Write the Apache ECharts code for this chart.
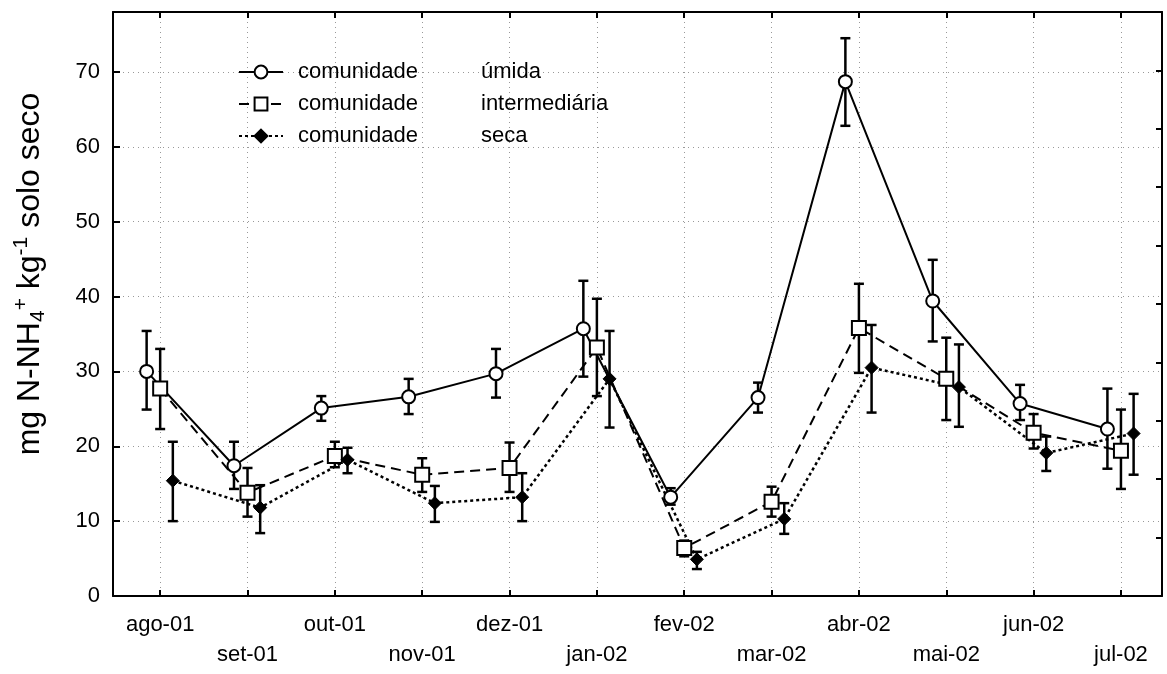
<!DOCTYPE html>
<html><head><meta charset="utf-8">
<script src="https://cdn.jsdelivr.net/npm/echarts@6/dist/echarts.min.js"></script>
<style>html,body{margin:0;padding:0;background:#fff}#c{width:1167px;height:674px}</style>
</head><body><div id="c"></div>
<script>
const months = ['ago-01','set-01','out-01','nov-01','dez-01','jan-02','fev-02','mar-02','abr-02','mai-02','jun-02','jul-02'];
const seriesNames = ['comunidade úmida','comunidade intermediária','comunidade seca'];
const yTicks = [0,10,20,30,40,50,60,70];
const umida     = [30.0,17.4,25.1,26.6,29.7,35.7,13.2,26.5,68.7,39.4,25.7,22.3];
const umidaLow  = [24.9,14.3,23.4,24.3,26.5,29.3,12.2,24.5,62.8,34.0,23.5,17.0];
const umidaHigh = [35.4,20.6,26.7,29.0,33.0,42.1,14.4,28.5,74.5,44.9,28.2,27.7];
const inter     = [27.7,13.8,18.7,16.2,17.1,33.2,6.4,12.6,35.8,29.0,21.8,19.4];
const interLow  = [22.3,10.6,17.2,13.9,13.9,26.7,5.3,10.6,29.8,23.5,19.7,14.3];
const interHigh = [33.0,17.1,20.6,18.4,20.5,39.7,7.4,14.6,41.7,34.5,24.3,24.9];
const seca      = [15.4,11.8,18.2,12.4,13.2,29.0,4.9,10.3,30.5,27.9,19.1,21.7];
const secaLow   = [10.0,8.4,16.4,9.9,10.0,22.5,3.6,8.3,24.5,22.6,16.7,16.2];
const secaHigh  = [20.6,14.8,19.8,14.7,16.4,35.4,5.9,12.4,36.2,33.6,21.3,27.0];

const FONT = '"Liberation Sans", Arial, sans-serif';
const OFF = [-0.155, 0, 0.145];
const xTicks = months.map((m, i) => i);

function pts(vals, off) { return vals.map((v, i) => [i + off, v]); }
function errSeries(low, high, off) {
  return {
    type: 'custom', silent: true, z: 2,
    data: low.map((l, i) => [i + off, l, high[i]]),
    encode: { x: 0, y: [1, 2] },
    renderItem: (params, api) => {
      const x = api.value(0);
      const lo = api.coord([x, api.value(1)]);
      const hi = api.coord([x, api.value(2)]);
      const w = 5, st = { stroke: '#000', lineWidth: 2.5 };
      return { type: 'group', children: [
        { type: 'line', shape: { x1: lo[0], y1: lo[1], x2: hi[0], y2: hi[1] }, style: st },
        { type: 'line', shape: { x1: lo[0] - w, y1: lo[1], x2: lo[0] + w, y2: lo[1] }, style: st },
        { type: 'line', shape: { x1: hi[0] - w, y1: hi[1], x2: hi[0] + w, y2: hi[1] }, style: st }
      ]};
    }
  };
}

const axisLine = { onZero: false, lineStyle: { color: '#000', width: 2 } };
const grid = { color: '#999', type: [1, 4], width: 1 };

const chart = echarts.init(document.getElementById('c'));
chart.setOption({
  animation: false,
  backgroundColor: '#fff',
  grid: { left: 113, right: 5, top: 12, bottom: 78 },
  xAxis: [{
    type: 'value', min: -0.54, max: 11.47, position: 'bottom',
    axisLine,
    axisTick: { inside: true, length: 6, customValues: xTicks, lineStyle: { color: '#000', width: 2 } },
    axisLabel: {
      customValues: xTicks,
      formatter: v => { const i = Math.round(v); return (i % 2 ? '\n' : '') + months[i]; },
      fontSize: 22, fontFamily: FONT, color: '#000', lineHeight: 30, margin: 14
    },
    splitLine: { show: true, lineStyle: grid }
  }, {
    type: 'value', min: -0.54, max: 11.47, position: 'top',
    axisLine,
    axisTick: { inside: true, length: 6, customValues: xTicks, lineStyle: { color: '#000', width: 2 } },
    axisLabel: { show: false }, splitLine: { show: false }
  }],
  yAxis: [{
    type: 'value', min: 0, max: 78, position: 'left',
    axisLine,
    axisTick: { show: true, inside: true, length: 7, customValues: yTicks, lineStyle: { color: '#000', width: 2 } },
    axisLabel: { customValues: yTicks, fontSize: 22, fontFamily: FONT, color: '#000', margin: 13 },
    splitLine: { show: true, lineStyle: grid }
  }, {
    type: 'value', min: 0, max: 78, interval: 7.8, position: 'right',
    axisLine,
    axisTick: { show: true, inside: true, length: 6, lineStyle: { color: '#000', width: 2 } },
    axisLabel: { show: false }, splitLine: { show: false }
  }],
  legend: {
    left: 238, top: 61, padding: 0, orient: 'vertical', itemWidth: 44, itemHeight: 16, itemGap: 10,
    selectedMode: false, data: seriesNames,
    formatter: n => { const p = n.split(' '); return '{a|' + p[0] + '}{b|' + p[1] + '}'; },
    textStyle: {
      fontSize: 22, fontFamily: FONT, color: '#000', lineHeight: 22,
      rich: {
        a: { fontSize: 22, fontFamily: FONT, color: '#000', width: 183, padding: [0, 0, 0, 10] },
        b: { fontSize: 22, fontFamily: FONT, color: '#000' }
      }
    }
  },
  graphic: [{
    type: 'text', x: 30, y: 274, rotation: Math.PI / 2,
    style: {
      text: '{a|mg N-NH}{s|4}{p|+}{a| kg}{p|-1}{a| solo seco}',
      align: 'center', verticalAlign: 'middle',
      rich: {
        a: { fontSize: 32, fontFamily: FONT, fill: '#000', color: '#000', lineHeight: 38, verticalAlign: 'middle' },
        s: { fontSize: 21, fontFamily: FONT, fill: '#000', color: '#000', lineHeight: 21, verticalAlign: 'bottom' },
        p: { fontSize: 21, fontFamily: FONT, fill: '#000', color: '#000', lineHeight: 21, verticalAlign: 'top' }
      }
    }
  }],
  series: [
    errSeries(umidaLow, umidaHigh, OFF[0]),
    errSeries(interLow, interHigh, OFF[1]),
    errSeries(secaLow, secaHigh, OFF[2]),
    { name: seriesNames[0], type: 'line', z: 5, data: pts(umida, OFF[0]),
      symbol: 'circle', symbolSize: 13,
      itemStyle: { color: '#fff', borderColor: '#000', borderWidth: 2 },
      lineStyle: { color: '#000', width: 2, type: 'solid' } },
    { name: seriesNames[1], type: 'line', z: 5, data: pts(inter, OFF[1]),
      symbol: 'rect', symbolSize: 14,
      itemStyle: { color: '#fff', borderColor: '#000', borderWidth: 2 },
      lineStyle: { color: '#000', width: 2, type: [10, 6] } },
    { name: seriesNames[2], type: 'line', z: 5, data: pts(seca, OFF[2]),
      symbol: 'diamond', symbolSize: 13,
      itemStyle: { color: '#000', borderColor: '#000', borderWidth: 1 },
      lineStyle: { color: '#000', width: 2.5, type: [3, 3] } }
  ]
});
</script>
</body></html>
